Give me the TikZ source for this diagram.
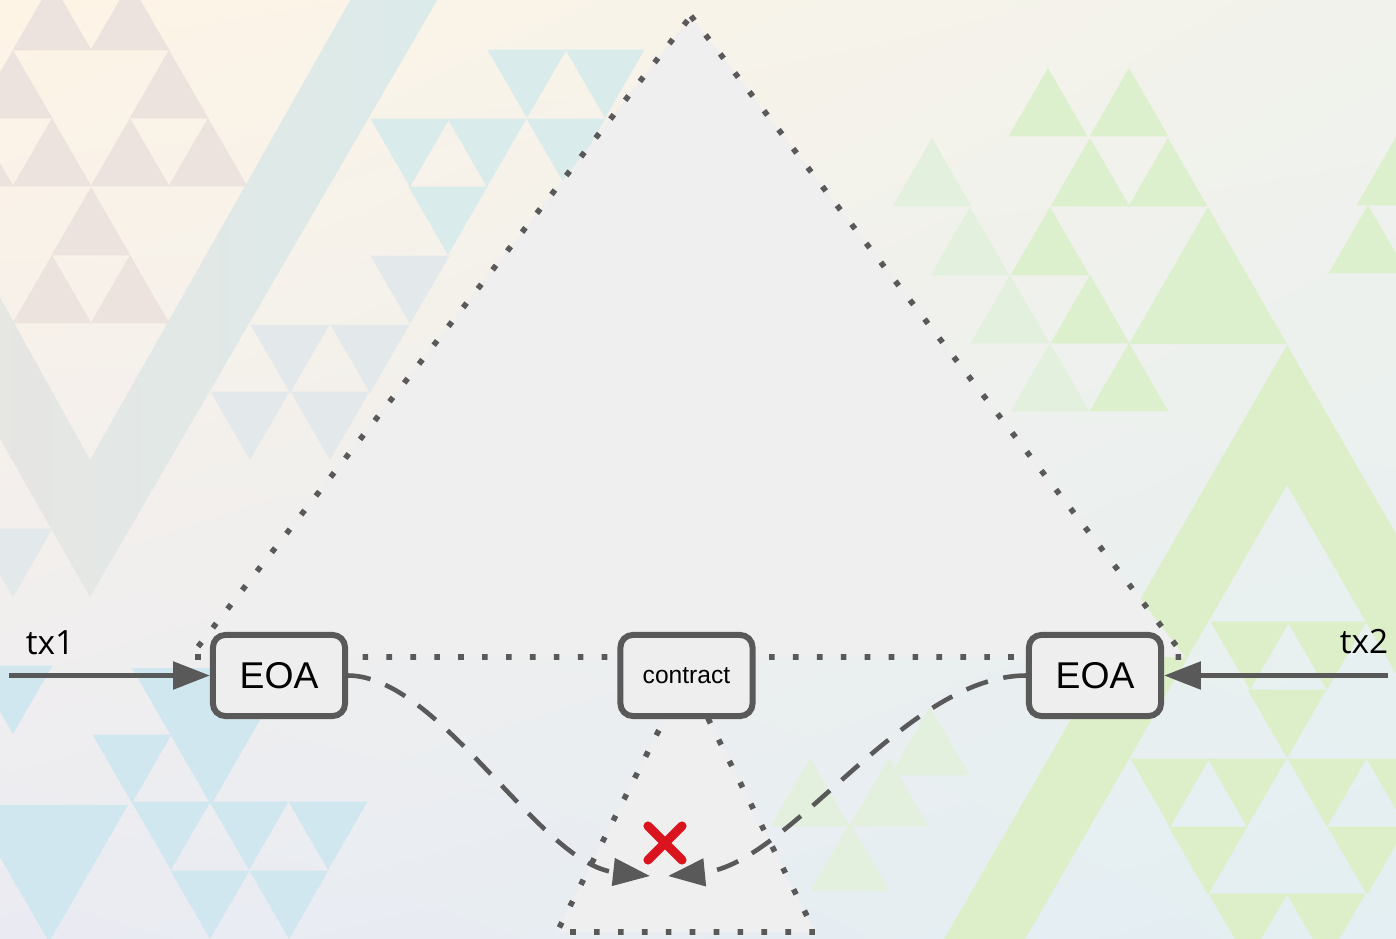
\documentclass[tikz,border=0pt]{standalone}
\usepackage{fontspec}
\setmainfont{Liberation Sans}
\newfontfamily\txfont{Open Sans}
\usetikzlibrary{arrows.meta, shadings}
\definecolor{linegray}{HTML}{595959}
\definecolor{boxfill}{HTML}{EEEEEE}
\definecolor{trifill}{HTML}{EFEFEF}
\definecolor{bgul}{HTML}{FEF4E6}
\definecolor{bgur}{HTML}{F1F2EC}
\definecolor{bgll}{HTML}{EAEBF2}
\definecolor{bglr}{HTML}{E3EFF2}
\definecolor{bandwarm}{HTML}{ECE3DF}
\definecolor{bandteal}{HTML}{DBEBEA}
\definecolor{warmtri}{HTML}{ECE3DE}
\definecolor{tealtri}{HTML}{D9EBEA}
\definecolor{tealgray}{HTML}{E3E9EA}
\definecolor{bluetri}{HTML}{D0E7F0}
\definecolor{greenfaint}{HTML}{E3F0DD}
\definecolor{greentri}{HTML}{DDF0CE}
\definecolor{greenband}{HTML}{DCEFC9}
\definecolor{clashred}{HTML}{D9141E}
\tikzset{
  eoabox/.style={draw=linegray, line width=1.7pt, fill=boxfill, rounded corners=3.5pt,
    minimum width=1.32cm, minimum height=0.81cm, inner sep=0pt, font=\fontsize{10.6}{13}\selectfont},
  callbox/.style={eoabox, font=\fontsize{7}{8}\selectfont},
  dots/.style={draw=linegray, line width=1.6pt, dash pattern=on 1.6pt off 5.2pt},
  calls/.style={draw=linegray, line width=1.3pt, dash pattern=on 6.5pt off 4.5pt,
    -{Triangle[length=10.5pt,width=7.7pt]}},
  txarrow/.style={draw=linegray, line width=1.5pt, -{Triangle[length=10.5pt,width=7.7pt]}},
  txlabel/.style={anchor=base, inner sep=0pt, font=\txfont\fontsize{9.5}{11}\selectfont},
  cross/.style={draw=clashred, line width=2.6pt, line cap=round}
}
\begin{document}
\begin{tikzpicture}[x=0.01cm, y=-0.01cm]
\useasboundingbox (0,0) rectangle (1396,939);
\begin{scope}
\clip (0,0) rectangle (1396,939);
\shade[upper left=bgul, upper right=bgur, lower left=bgll, lower right=bglr]
  (0,0) rectangle (1396,939);
\shade[left color=bandwarm, right color=bandteal, even odd rule]
  (-255,-10) -- (443,-10) -- (90,597) -- cycle (-170,-10) -- (356,-10) -- (90,460) -- cycle;
\foreach \x/\y in {52/-18,130/-18,13/50,169/50,-26/118,52/118,130/118,208/118,91/187,52/255,130/255}
  \fill[warmtri] (\x,\y) -- ++(39.5,68.4) -- ++(-79,0) -- cycle;
\foreach \x/\y in {527/118,605/118,410/187,487/187,566/187,448/255}
  \fill[tealtri] (\x,\y) -- ++(-39.5,-68.4) -- ++(79,0) -- cycle;
\foreach \x/\y in {410/324,290/393,370/393,250/460,330/460,13/597}
  \fill[tealgray] (\x,\y) -- ++(-39.5,-68.4) -- ++(79,0) -- cycle;
\foreach \x/\y in {13/734,132/803,171/870,249/870,328/870,210/939,289/939}
  \fill[bluetri] (\x,\y) -- ++(-39.5,-68.4) -- ++(79,0) -- cycle;
\foreach \x/\y in {211/805,49/942}
  \fill[bluetri] (\x,\y) -- ++(-79,-137) -- ++(158,0) -- cycle;
\fill[greenband, even odd rule] (1287,345) -- (909,1000) -- (1665,1000) -- cycle
  (1287,485) -- (990,1000) -- (1584,1000) -- cycle;
\foreach \x/\y in {932/138,970/207,1010/275,1050/343,810/758,889/758,850/823,930/707}
  \fill[greenfaint] (\x,\y) -- ++(39.5,68.4) -- ++(-79,0) -- cycle;
\foreach \x/\y in {1048/68,1129/68,1090/138,1168/138,1050/207,1090/275,1129/343,1396/137,1368/205}
  \fill[greentri] (\x,\y) -- ++(39.5,68.4) -- ++(-79,0) -- cycle;
\fill[greentri] (1208,207) -- ++(79,137) -- ++(-158,0) -- cycle;
\foreach \x/\y in {1250/690,1327/690,1287/758,1170/827,1247/827,1327/827,1406/827,1208/895,1367/895,1248/962,1326/962}
  \fill[greenband] (\x,\y) -- ++(-39.5,-68.4) -- ++(79,0) -- cycle;
\end{scope}

\coordinate (top) at (691,16);
\coordinate (baseL) at (190,657);
\coordinate (baseR) at (1185,657);
\coordinate (ctop) at (686.5,675.5);
\coordinate (subL) at (557,932);
\coordinate (subR) at (815,932);
\fill[trifill] (top) -- (baseR) -- (baseL) -- cycle;
\fill[trifill] (ctop) -- (subR) -- (subL) -- cycle;
\draw[dots] (top) -- (baseR) -- (baseL) -- cycle;
\draw[dots] (ctop) -- (subR) -- (subL) -- cycle;

\node[eoabox] (eoa1) at (279,675.5) {EOA};
\node[callbox] (contract) at (ctop) {contract};
\node[eoabox] (eoa2) at (1095,675.5) {EOA};

\coordinate (in1) at (9,675.5);
\coordinate (in2) at (1388,675.5);
\coordinate (hit1) at (650,876);
\coordinate (hit2) at (668,876);
\coordinate (clash) at (665,843);

\draw[txarrow] (in1) -- (eoa1.west);
\draw[txarrow] (in2) -- (eoa2.east);
\node[txlabel] (tx1) at (50,654) {tx1};
\node[txlabel] (tx2) at (1364,653) {tx2};

\draw[calls] (eoa1.east) .. controls (440,676) and (540,864) .. (hit1);
\draw[calls] (eoa2.west) .. controls (905,676) and (790,864) .. (hit2);

\draw[cross] ([shift={(-17,-17)}]clash) -- ([shift={(17,17)}]clash);
\draw[cross] ([shift={(17,-17)}]clash) -- ([shift={(-17,17)}]clash);
\end{tikzpicture}
\end{document}
